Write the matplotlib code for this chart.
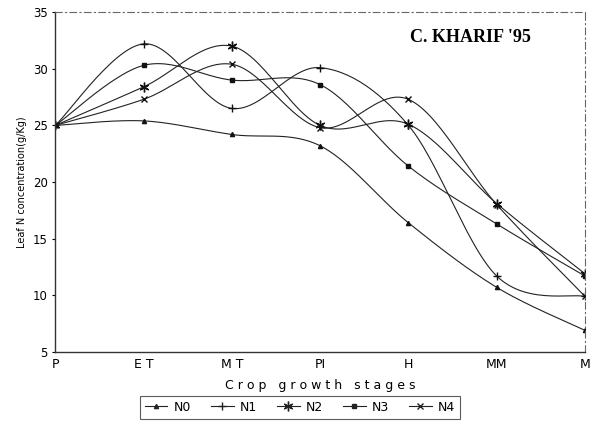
import numpy as np
import matplotlib
matplotlib.use('Agg')
import matplotlib.pyplot as plt

# Stades de croissance et concentrations
stages = ['P', 'E T', 'M T', 'PI', 'H', 'MM', 'M']
N0 = [25.0, 25.4, 24.2, 23.2, 16.4, 10.7, 6.9]
N1 = [25.0, 32.2, 26.5, 30.1, 25.0, 11.7, 9.9]
N2 = [25.0, 28.4, 32.0, 25.0, 25.1, 18.1, 11.9]
N3 = [25.0, 30.3, 29.0, 28.6, 21.4, 16.3, 11.7]
N4 = [25.0, 27.3, 30.4, 24.8, 27.3, 18.0, 9.9]

series = [('N0', N0, '^', 3, 'full'), ('N1', N1, '+', 6, 'full'),
          ('N2', N2, (6, 2, 0), 7, 'full'), ('N3', N3, 's', 3.5, 'full'),
          ('N4', N4, 'x', 5, 'full')]


# Courbe lissée (type Catmull-Rom) passant par les points
def smooth(x, y, n=30):
    x = np.asarray(x, float)
    y = np.asarray(y, float)
    px = np.concatenate([[x[0]], x, [x[-1]]])
    py = np.concatenate([[y[0]], y, [y[-1]]])
    xs, ys = [], []
    t = np.linspace(0, 1, n)
    for i in range(1, len(px) - 2):
        for p, out in ((px, xs), (py, ys)):
            p0, p1, p2, p3 = p[i - 1], p[i], p[i + 1], p[i + 2]
            out.append(0.5 * (2 * p1 + (-p0 + p2) * t
                              + (2 * p0 - 5 * p1 + 4 * p2 - p3) * t ** 2
                              + (-p0 + 3 * p1 - 3 * p2 + p3) * t ** 3))
    return np.concatenate(xs), np.concatenate(ys)


fig = plt.figure(figsize=(5.94, 4.34), dpi=100)
ax = fig.add_axes([0.093, 0.189, 0.892, 0.783])

x = np.arange(len(stages))
for name, vals, mk, ms, fs in series:
    sx, sy = smooth(x, vals)
    ax.plot(sx, sy, color='#222222', lw=0.8)
    ax.plot(x, vals, linestyle='none', marker=mk, markersize=ms,
            color='#111111', markeredgewidth=1.0)
    # entrée de légende
    ax.plot([], [], color='#222222', lw=0.8, marker=mk, markersize=ms,
            markeredgewidth=1.0, label=name)

ax.set_xlim(0, 6)
ax.set_ylim(5, 35)
ax.set_yticks([5, 10, 15, 20, 25, 30, 35])
ax.set_xticks(x)
ax.set_xticklabels(stages, fontsize=9)
ax.tick_params(axis='y', labelsize=8.5, length=2)
ax.tick_params(axis='x', length=0, pad=4)

for s in ['top', 'right']:
    ax.spines[s].set_linestyle((0, (6, 3, 1, 3)))
    ax.spines[s].set_color('#666666')
for s in ['left', 'bottom']:
    ax.spines[s].set_color('#333333')
    ax.spines[s].set_linewidth(1.0)

ax.set_xlabel('C r o p   g r o w t h   s t a g e s', fontsize=9, labelpad=6)
ax.set_ylabel('Leaf N concentration(g/Kg)', fontsize=7, labelpad=4)

ax.text(0.898, 0.95, "C. KHARIF '95", transform=ax.transAxes, ha='right', va='top',
        fontsize=13, fontweight='bold', family='Liberation Serif')

leg = fig.legend(loc='center', bbox_to_anchor=(0.505, 0.062), ncol=5, fontsize=9,
                 handlelength=1.8, handletextpad=0.5, columnspacing=1.6,
                 frameon=True, fancybox=False, edgecolor='#333333')
leg.get_frame().set_linewidth(0.8)

plt.savefig('out.png', dpi=100)
